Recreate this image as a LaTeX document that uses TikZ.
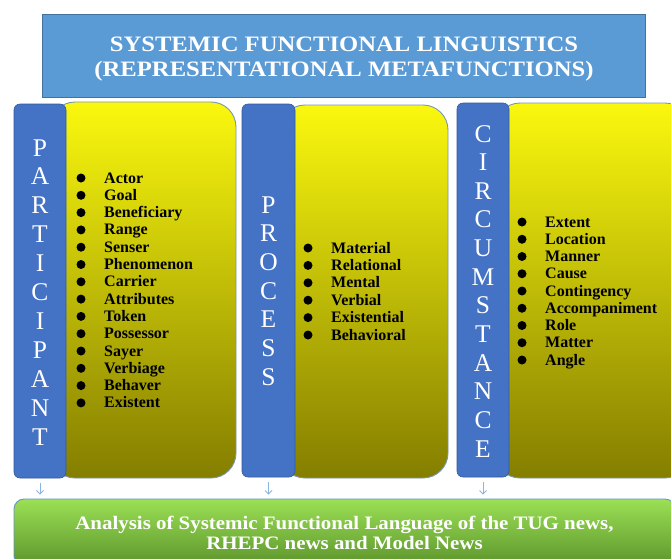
\documentclass[tikz,border=0pt]{standalone}
\usepackage{fontspec}
\setmainfont{Liberation Serif}
\newfontfamily\widefont[FakeStretch=1.12]{Liberation Serif}
\newfontfamily\gwidefont[FakeStretch=1.1]{Liberation Serif}
\usetikzlibrary{arrows.meta}
\definecolor{titleblue}{RGB}{91,155,213}
\definecolor{titleedge}{RGB}{65,113,156}
\definecolor{stripblue}{RGB}{68,114,196}
\definecolor{stripedge}{RGB}{52,90,160}
\definecolor{ytop}{RGB}{250,248,14}
\definecolor{ymid}{RGB}{230,226,10}
\definecolor{ybot}{RGB}{132,126,0}
\definecolor{yedge}{RGB}{120,150,180}
\definecolor{gtop}{RGB}{155,224,85}
\definecolor{gbot}{RGB}{92,148,44}
\definecolor{gedge}{RGB}{100,150,190}
\definecolor{arrowblue}{RGB}{140,180,225}
\tikzset{
  titlebox/.style={draw=titleedge, line width=0.8pt, fill=titleblue, inner sep=0pt},
  titletext/.style={text=white, font=\widefont\bfseries\fontsize{22}{25}\selectfont,
    align=center, inner sep=0pt},
  ybox/.style={draw=yedge, line width=0.9pt, rounded corners=25pt,
    top color=ytop, middle color=ymid, bottom color=ybot, inner sep=0pt},
  strip/.style={draw=stripedge, line width=0.6pt, rounded corners=6pt, fill=stripblue, inner sep=0pt},
  vlet/.style={anchor=base, text=white, font=\fontsize{25.5}{25}\selectfont, inner sep=0pt},
  bul/.style={circle, fill=black, minimum size=9pt, inner sep=0pt},
  item/.style={anchor=base west, font=\bfseries\fontsize{16}{16}\selectfont, inner sep=0pt},
  gbox/.style={draw=gedge, line width=0.9pt, rounded corners=10pt,
    top color=gtop, bottom color=gbot, inner sep=0pt},
  gtext/.style={text=white, align=center,
    font=\gwidefont\bfseries\fontsize{19}{19}\selectfont, inner sep=0pt},
  arr/.style={draw=arrowblue, line width=0.8pt, -{Straight Barb[length=3.5pt,width=7pt]}}
}
\begin{document}
\begin{tikzpicture}[x=1pt,y=-1pt]
\useasboundingbox (0,0) rectangle (671,558);
\fill[white] (0,0) rectangle (671,558);
% title
\node[titlebox, minimum width=603pt, minimum height=83pt] (title) at (343.5,55.5) {};
\node[titletext] (titlet) at (344,59)
  {SYSTEMIC FUNCTIONAL LINGUISTICS\\(REPRESENTATIONAL METAFUNCTIONS)};
% yellow boxes
\node[ybox, minimum width=186pt, minimum height=376pt] (py) at (143,290) {};
\node[ybox, minimum width=168pt, minimum height=373pt] (ry) at (364,291.5) {};
\node[ybox, minimum width=195pt, minimum height=375pt] (cy) at (592.5,290.5) {};
% blue strips
\node[strip, minimum width=52pt, minimum height=374pt] (ps) at (40,291) {};
\node[strip, minimum width=53pt, minimum height=373pt] (rs) at (268.5,290.5) {};
\node[strip, minimum width=52pt, minimum height=374pt] (cs) at (483,290) {};
% vertical letters
\foreach \l [count=\i] in {P,A,R,T,I,C,I,P,A,N,T}
  \node[vlet] (pl\i) at (40,{156+(\i-1)*28.9}) {\l};
\foreach \l [count=\i] in {P,R,O,C,E,S,S}
  \node[vlet] (rl\i) at (268.5,{213+(\i-1)*28.7}) {\l};
\foreach \l [count=\i] in {C,I,R,C,U,M,S,T,A,N,C,E}
  \node[vlet] (cl\i) at (483,{142+(\i-1)*28.64}) {\l};
% lists
\foreach \t [count=\i] in {Actor,Goal,Beneficiary,Range,Senser,Phenomenon,Carrier,Attributes,Token,Possessor,Sayer,Verbiage,Behaver,Existent}{
  \node[bul] (pb\i) at (81,{178+(\i-1)*17.3}) {};
  \node[item] (pi\i) at (104,{183+(\i-1)*17.3}) {\t};
}
\foreach \t [count=\i] in {Material,Relational,Mental,Verbial,Existential,Behavioral}{
  \node[bul] (rb\i) at (308,{248+(\i-1)*17.4}) {};
  \node[item] (ri\i) at (331,{253+(\i-1)*17.4}) {\t};
}
\foreach \t [count=\i] in {Extent,Location,Manner,Cause,Contingency,Accompaniment,Role,Matter,Angle}{
  \node[bul] (cb\i) at (522,{222+(\i-1)*17.25}) {};
  \node[item] (ci\i) at (545,{227+(\i-1)*17.25}) {\t};
}
% bottom box
\node[gbox, minimum width=661pt, minimum height=67pt] (green) at (344.5,532.5) {};
\node[gtext] (greent) at (344.5,533)
  {Analysis of Systemic Functional Language of the TUG news,\\[1pt]RHEPC news and Model News};
% arrows
\draw[arr] ([yshift=-5pt]ps.south) -- ([yshift=4pt]ps.south |- green.north);
\draw[arr] ([yshift=-5pt]rs.south) -- ([yshift=4pt]rs.south |- green.north);
\draw[arr] ([yshift=-5pt]cs.south) -- ([yshift=4pt]cs.south |- green.north);
\end{tikzpicture}
\end{document}
